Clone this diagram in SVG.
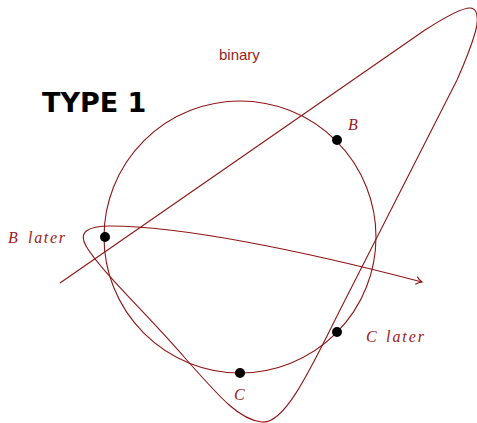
<svg xmlns="http://www.w3.org/2000/svg" width="477" height="423" viewBox="0 0 477 423">
<style>
.ln{fill:none;stroke:#8f1515;stroke-width:1.1}
.dot{fill:#000}
.lbl{font-family:"Liberation Serif",serif;font-style:italic;font-size:16px;fill:#9b1c1c}
.sans{font-family:"Liberation Sans",sans-serif;font-size:15px;fill:#9b1c1c}
.title{font-family:"DejaVu Sans",sans-serif;font-weight:bold;font-size:27px;fill:#000}
</style>
<defs>
<marker id="arr" markerWidth="12" markerHeight="12" refX="9" refY="6" orient="auto" markerUnits="userSpaceOnUse">
<path d="M3,2 Q6,5 9,6 Q6,7 3,10" fill="none" stroke="#8f1515" stroke-width="1.1"/>
</marker>
</defs>
<g id="title"><text class="title" x="42" y="112">TYPE 1</text></g>
<g id="binary"><text class="sans" x="219" y="60">binary</text></g>
<g id="connectors">
<circle class="ln" cx="240" cy="237" r="136"/>
<path class="ln" marker-end="url(#arr)" d="M60,283 L425,30 C450,14 464,8 470,8 C478,8 479,20 475,33 C471,47 465,62 457,80 L340,310 C312,366 285,425 262,422 C240,420 222,400 185,358 C145,312 100,270 86,246 C78,232 88,226 110,226 C180,226 300,250 422,282"/>
</g>
<g id="B"><circle class="dot" cx="337" cy="140" r="5"/><text class="lbl" x="348" y="130">B</text></g>
<g id="Blater"><circle class="dot" cx="105" cy="237" r="5"/><text class="lbl" x="8" y="243">B</text><text class="lbl" x="28" y="243" textLength="37" lengthAdjust="spacing">later</text></g>
<g id="Clater"><circle class="dot" cx="337" cy="332" r="5"/><text class="lbl" x="366" y="342">C</text><text class="lbl" x="386" y="342" textLength="38" lengthAdjust="spacing">later</text></g>
<g id="C"><circle class="dot" cx="240" cy="373" r="5"/><text class="lbl" x="234" y="400">C</text></g>
</svg>
